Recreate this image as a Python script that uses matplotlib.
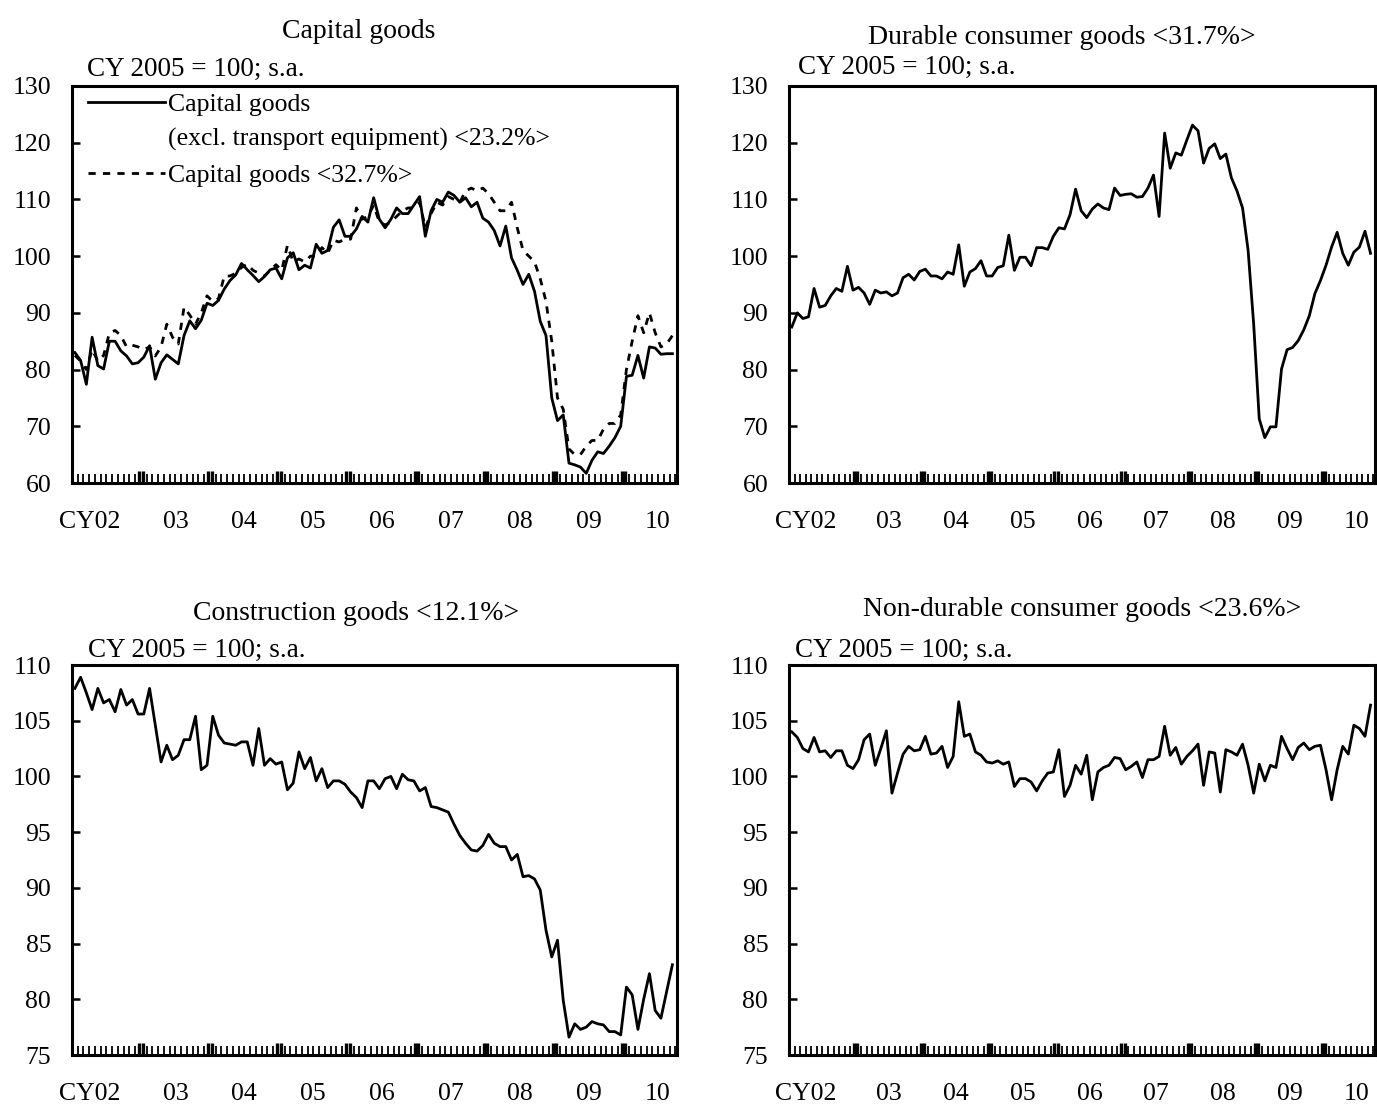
import numpy as np
import matplotlib
matplotlib.use("Agg")
import matplotlib.pyplot as plt
from matplotlib.lines import Line2D
from matplotlib.transforms import ScaledTranslation

plt.rcParams['font.family'] = ['Liberation Serif', 'DejaVu Serif']

# monthly data, Jan 2002 - Sep 2010 (CY 2005 = 100; s.a.)
year_labels = ['CY02', '03', '04', '05', '06', '07', '08', '09', '10']

cap_excl = [83.0, 81.6, 77.4, 85.7, 80.7, 80.1, 85.0, 85.0, 83.3, 82.4,
            81.0, 81.2, 82.2, 84.2, 78.3, 81.2, 82.6, 81.8, 81.0, 86.0,
            88.6, 87.2, 88.7, 91.7, 91.3, 92.2, 94.2, 95.7, 96.7, 98.7,
            97.6, 96.6, 95.5, 96.4, 97.6, 97.9, 96.0, 99.7, 100.6, 97.6,
            98.4, 97.9, 102.1, 100.5, 101.0, 105.1, 106.4, 103.5, 103.5, 104.8,
            107.0, 106.0, 110.3, 106.5, 105.0, 106.5, 108.5, 107.5, 107.5, 109.0,
            110.5, 103.5, 108.0, 110.0, 109.5, 111.3, 110.7, 109.5, 110.3, 108.7,
            109.5, 106.7, 106.0, 104.5, 101.8, 105.3, 99.7, 97.5, 95.0, 96.8,
            93.8, 88.5, 86.0, 75.0, 71.0, 72.0, 63.5, 63.2, 62.8, 61.7,
            64.0, 65.5, 65.2, 66.5, 68.0, 70.0, 78.8, 79.0, 82.5, 78.5,
            84.0, 83.8, 82.7, 82.8, 82.8]

cap_all = [82.5, 81.5, 80.0, 83.5, 81.5, 82.5, 86.4, 86.9, 86.0, 84.0,
           84.3, 84.0, 83.5, 84.0, 82.4, 84.0, 88.0, 85.7, 84.5, 91.0,
           89.6, 88.0, 90.0, 93.0, 92.0, 92.5, 96.5, 96.5, 97.0, 98.0,
           98.6, 97.5, 97.0, 96.5, 97.5, 98.5, 97.5, 101.9, 99.0, 99.5,
           99.0, 100.0, 100.0, 101.5, 100.5, 102.8, 102.5, 103.0, 103.0, 108.5,
           106.5, 107.0, 109.0, 106.0, 105.5, 106.0, 107.0, 108.0, 108.5, 108.5,
           109.5, 105.0, 107.5, 109.5, 109.0, 110.5, 110.0, 109.5, 111.5, 112.0,
           111.5, 112.0, 111.0, 109.5, 108.0, 108.0, 109.5, 105.0, 101.0, 100.0,
           99.0, 96.0, 92.0, 85.0, 75.0, 73.0, 66.0, 65.0, 65.0, 66.5,
           67.5, 67.5, 69.5, 70.5, 70.5, 72.0, 80.0, 85.0, 89.5, 86.5,
           90.0, 86.5, 84.0, 84.5, 86.0]

durable = [87.5, 90.0, 89.0, 89.3, 94.3, 91.0, 91.3, 93.0, 94.3, 93.8,
           98.2, 94.0, 94.5, 93.5, 91.5, 94.0, 93.5, 93.7, 93.0, 93.5,
           96.2, 96.8, 95.8, 97.3, 97.7, 96.5, 96.5, 96.0, 97.2, 96.8,
           102.0, 94.7, 97.2, 97.8, 99.2, 96.5, 96.5, 98.0, 98.3, 103.7,
           97.5, 99.8, 99.8, 98.3, 101.5, 101.5, 101.2, 103.5, 105.0, 104.8,
           107.3, 111.8, 108.0, 106.8, 108.3, 109.2, 108.5, 108.2, 112.0, 110.7,
           110.9, 111.0, 110.4, 110.5, 112.0, 114.3, 107.0, 121.7, 115.5, 118.2,
           117.8, 120.5, 123.1, 122.1, 116.4, 119.0, 119.8, 117.2, 118.0, 113.8,
           111.5, 108.5, 101.0, 88.0, 71.3, 68.0, 69.9, 69.9, 80.1, 83.5,
           83.9, 85.1, 87.0, 89.5, 93.4, 95.7, 98.4, 101.6, 104.2, 100.5,
           98.4, 100.7, 101.6, 104.4, 100.5]

construction = [107.9, 108.9, 107.5, 106.0, 107.9, 106.6, 106.9, 105.8, 107.8, 106.4,
                106.9, 105.6, 105.6, 107.9, 104.6, 101.3, 102.8, 101.5, 101.9, 103.3,
                103.3, 105.4, 100.6, 101.0, 105.4, 103.7, 103.0, 102.9, 102.8, 103.1,
                103.1, 101.0, 104.3, 101.0, 101.6, 101.1, 101.3, 98.8, 99.4, 102.2,
                100.7, 101.7, 99.6, 100.7, 99.0, 99.6, 99.6, 99.3, 98.6, 98.1,
                97.2, 99.6, 99.6, 98.9, 99.8, 100.0, 98.9, 100.2, 99.7, 99.6,
                98.7, 99.0, 97.3, 97.2, 97.0, 96.8, 95.7, 94.7, 94.0, 93.4,
                93.3, 93.8, 94.8, 94.0, 93.7, 93.7, 92.5, 93.0, 91.0, 91.1,
                90.8, 89.8, 86.2, 83.8, 85.3, 79.9, 76.6, 77.8, 77.3, 77.5,
                78.0, 77.8, 77.7, 77.1, 77.1, 76.8, 81.1, 80.4, 77.3, 80.0,
                82.3, 79.0, 78.3, 80.7, 83.1]

nondurable = [104.0, 103.5, 102.5, 102.2, 103.5, 102.2, 102.3, 101.7, 102.3, 102.3,
              101.0, 100.7, 101.5, 103.3, 103.8, 101.0, 102.5, 104.1, 98.5, 100.3,
              102.0, 102.7, 102.3, 102.4, 103.6, 102.0, 102.1, 102.7, 100.8, 101.8,
              106.7, 103.6, 103.8, 102.2, 101.9, 101.3, 101.2, 101.4, 101.1, 101.3,
              99.1, 99.8, 99.8, 99.5, 98.7, 99.6, 100.3, 100.4, 102.4, 98.2,
              99.2, 101.0, 100.2, 101.9, 97.9, 100.4, 100.8, 101.0, 101.7, 101.6,
              100.6, 100.9, 101.3, 99.9, 101.5, 101.5, 101.8, 104.5, 101.9, 102.6,
              101.1, 101.8, 102.3, 102.9, 99.2, 102.2, 102.1, 98.6, 102.4, 102.2,
              101.9, 102.9, 101.0, 98.5, 101.1, 99.6, 101.0, 100.8, 103.6, 102.5,
              101.5, 102.6, 103.0, 102.4, 102.7, 102.8, 100.6, 97.9, 100.6, 102.7,
              102.0, 104.6, 104.3, 103.6, 106.4]

W, H = 1377, 1106
XMAX = 105.3
LW = 2.0
FS_TICK = 18.5
FS_TEXT = 19.5
DASH = (0, (2.6, 2.6))

fig = plt.figure(figsize=(W / 100, H / 100), dpi=100)


def px_rect(left, top, right, bottom):
    return [left / W, 1 - bottom / H, (right - left) / W, (bottom - top) / H]


def setup_panel(ax, ymin, ymax, ystep):
    ax.set_xlim(0, XMAX)
    ax.set_ylim(ymin, ymax)
    ax.set_yticks(np.arange(ymin, ymax + 0.1, ystep))
    ax.tick_params(axis='y', direction='in', length=6, width=1.8,
                   labelsize=FS_TICK, pad=15)
    # monthly ticks, doubled bold ticks at year ends
    edges = np.arange(12, XMAX, 12)
    ax.set_xticks(np.sort(np.concatenate([edges - 0.3, edges + 0.3])))
    ax.set_xticks([m for m in range(1, int(XMAX) + 1) if m % 12], minor=True)
    ax.tick_params(axis='x', which='major', direction='in', length=8.5,
                   width=2.4, labelbottom=False)
    ax.tick_params(axis='x', which='minor', direction='in', length=6.5, width=1.3)
    for s in ax.spines.values():
        s.set_linewidth(2.2)
    sec = ax.secondary_xaxis('bottom')
    sec.set_xticks(np.arange(6, XMAX, 12), labels=year_labels)
    sec.tick_params(length=0, labelsize=FS_TICK, pad=20)
    sec.spines['bottom'].set_visible(False)
    first = sec.get_xticklabels()[0]
    first.set_transform(first.get_transform() +
                        ScaledTranslation(-0.17, 0, fig.dpi_scale_trans))
    return ax


def ftext(x, y, s, size=FS_TEXT, **kw):
    fig.text(x / W, 1 - y / H, s, fontsize=size, va='center', **kw)


# ---- Capital goods ----
ax1 = setup_panel(fig.add_axes(px_rect(72, 86, 677, 483)), 60, 130, 10)
ax1.plot(np.arange(len(cap_all)) + 0.5, cap_all, color='black', lw=LW, ls=DASH)
ax1.plot(np.arange(len(cap_excl)) + 0.5, cap_excl, color='black', lw=LW)
handles = [Line2D([], [], color='black', lw=LW),
           Line2D([], [], color='none'),
           Line2D([], [], color='black', lw=LW, ls=DASH)]
labels = ['Capital goods', '(excl. transport equipment) <23.2%>',
          'Capital goods <32.7%>']
ax1.legend(handles, labels, loc='upper left', bbox_to_anchor=(16 / 605, 1 - 7 / 397),
           frameon=False, fontsize=FS_TICK, handlelength=3.0, handletextpad=0.12,
           labelspacing=0.47, borderpad=0, borderaxespad=0)
ftext(359, 31, 'Capital goods', size=20, ha='center')
ftext(87, 69, 'CY 2005 = 100; s.a.', ha='left')

# ---- Durable consumer goods ----
ax2 = setup_panel(fig.add_axes(px_rect(789, 86, 1375, 483)), 60, 130, 10)
ax2.plot(np.arange(len(durable)) + 0.5, durable, color='black', lw=LW)
ftext(1062, 37, 'Durable consumer goods <31.7%>', size=20, ha='center')
ftext(798, 67, 'CY 2005 = 100; s.a.', ha='left')

# ---- Construction goods ----
ax3 = setup_panel(fig.add_axes(px_rect(72, 665, 677, 1055)), 75, 110, 5)
ax3.plot(np.arange(len(construction)) + 0.5, construction, color='black', lw=LW)
ftext(356, 613, 'Construction goods <12.1%>', size=20, ha='center')
ftext(88, 650, 'CY 2005 = 100; s.a.', ha='left')

# ---- Non-durable consumer goods ----
ax4 = setup_panel(fig.add_axes(px_rect(789, 665, 1375, 1055)), 75, 110, 5)
ax4.plot(np.arange(len(nondurable)) + 0.5, nondurable, color='black', lw=LW)
ftext(1082, 610, 'Non-durable consumer goods <23.6%>', size=20, ha='center')
ftext(795, 650, 'CY 2005 = 100; s.a.', ha='left')

fig.savefig('out.png', dpi=100)
